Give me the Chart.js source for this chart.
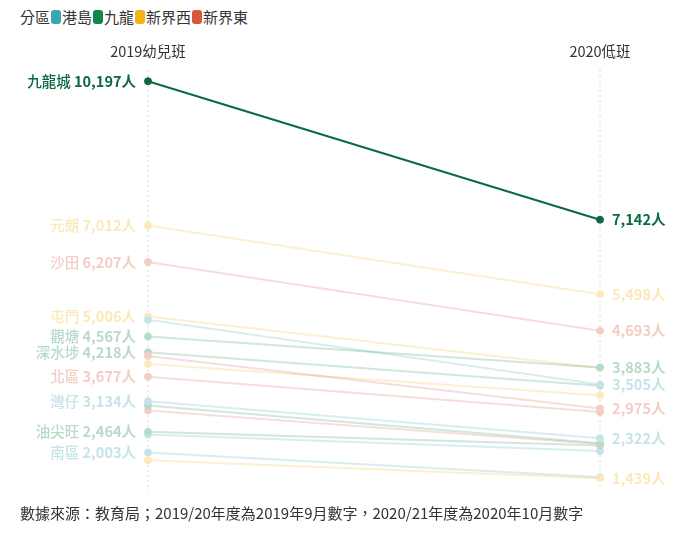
<!DOCTYPE html>
<html>
<head>
<meta charset="utf-8">
<script src="https://cdn.jsdelivr.net/npm/chart.js@4"></script>
<style>
    body { margin: 0; width: 690px; height: 533px; overflow: hidden; background: #fff;
           font-family: "Noto Sans CJK TC", "Noto Sans", sans-serif; }
    #chart { position: absolute; left: 0; top: 0; }
    #legend { position: absolute; left: 20px; top: 7px; font-size: 15px; color: #333;
              display: flex; align-items: center; line-height: 20px; }
    .sw { display: inline-block; width: 10px; height: 14px; border-radius: 3px; margin: 0 1px; }
    #source { position: absolute; left: 20px; top: 502px; font-size: 15px; color: #333; }
</style>
</head>
<body>
<div id="legend"></div>
<canvas id="chart" width="690" height="533"></canvas>
<div id="source">數據來源：教育局；2019/20年度為2019年9月數字，2020/21年度為2020年10月數字</div>
<script>
const columns = ['2019幼兒班', '2020低班'];
const regionNames = ['港島', '九龍', '新界西', '新界東'];
const regionColors = ['#3aa5b3', '#12854f', '#f0b416', '#d9573f'];

const districts = ['九龍城', '元朗', '沙田', '屯門', '東區', '觀塘', '深水埗', '西貢', '葵青',
                   '北區', '灣仔', '黃大仙', '大埔', '油尖旺', '中西區', '南區', '荃灣'];
const districtRegion = [1, 2, 3, 2, 0, 1, 1, 3, 2, 3, 0, 1, 3, 1, 0, 0, 2];
const values2019 = [10197, 7012, 6207, 5006, 4932, 4567, 4218, 4135, 3959,
                    3677, 3134, 3043, 2934, 2464, 2400, 2003, 1835];
const values2020 = [7142, 5498, 4693, 3870, 3505, 3883, 3480, 2975, 3265,
                    2897, 2322, 2212, 2190, 2162, 2036, 1460, 1439];

const labelledLeft = ['九龍城', '元朗', '沙田', '屯門', '觀塘', '深水埗', '北區', '灣仔', '油尖旺', '南區'];
const labelledRight = ['九龍城', '元朗', '沙田', '觀塘', '東區', '西貢', '灣仔', '荃灣'];
const highlight = '九龍城';
const highlightColor = '#0b6b40';

function fade(hex, a) {
    const n = parseInt(hex.slice(1), 16);
    return `rgba(${n >> 16}, ${(n >> 8) & 255}, ${n & 255}, ${a})`;
}
// same tint as fade() but solid, so overlapping points do not mix
function tint(hex, a) {
    const n = parseInt(hex.slice(1), 16);
    const mix = v => Math.round(255 - a * (255 - v));
    return `rgb(${mix(n >> 16)}, ${mix((n >> 8) & 255)}, ${mix(n & 255)})`;
}

// legend
const legend = document.getElementById('legend');
legend.innerHTML = '分區' + regionNames.map((r, i) =>
    `<span class="sw" style="background:${regionColors[i]}"></span>${r}`).join('');

const datasets = districts.map((d, i) => {
    const hi = d === highlight;
    const c = regionColors[districtRegion[i]];
    return {
        label: d,
        data: [values2019[i], values2020[i]],
        borderColor: hi ? highlightColor : fade(c, 0.2),
        backgroundColor: hi ? highlightColor : tint(c, 0.3),
        pointBackgroundColor: hi ? highlightColor : tint(c, 0.3),
        pointBorderColor: hi ? highlightColor : tint(c, 0.3),
        borderWidth: 2,
        pointRadius: 3.5,
        pointBorderWidth: 1,
        clip: false,
        // lower order is drawn on top: highlight first, then labelled ones
        order: hi ? 0 : (labelledRight.includes(d) ? 1 : 2)
    };
});

const fmt = v => v.toLocaleString('en-US') + '人';

const decorPlugin = {
    id: 'decor',
    beforeDatasetsDraw(chart) {
        const { ctx, chartArea } = chart;
        const xs = chart.scales.x;
        ctx.save();
        ctx.strokeStyle = '#d8d8d8';
        ctx.lineWidth = 1;
        ctx.setLineDash([2, 3]);
        columns.forEach((c, i) => {
            const x = xs.getPixelForValue(i);
            ctx.beginPath();
            ctx.moveTo(x, chartArea.top - 2);
            ctx.lineTo(x, chartArea.bottom + 2);
            ctx.stroke();
        });
        ctx.setLineDash([]);
        ctx.fillStyle = '#333';
        ctx.font = '14.5px "Noto Sans CJK TC", sans-serif';
        ctx.textAlign = 'center';
        ctx.textBaseline = 'middle';
        columns.forEach((c, i) => {
            ctx.fillText(c, xs.getPixelForValue(i), 51);
        });
        ctx.restore();
    },
    afterDatasetsDraw(chart) {
        const { ctx } = chart;
        ctx.save();
        ctx.textBaseline = 'middle';
        const nameFont = '500 14.5px "Noto Sans CJK TC", sans-serif';
        const numFont = 'bold 14.5px "Noto Sans CJK TC", sans-serif';
        districts.forEach((d, i) => {
            const meta = chart.getDatasetMeta(i);
            const hi = d === highlight;
            const color = hi ? highlightColor : tint(regionColors[districtRegion[i]], 0.3);
            ctx.fillStyle = color;
            if (labelledLeft.includes(d)) {
                const p = meta.data[0];
                const num = fmt(values2019[i]);
                ctx.font = numFont;
                const wNum = ctx.measureText(num).width;
                const xr = p.x - 12;
                ctx.textAlign = 'right';
                ctx.fillText(num, xr, p.y);
                ctx.font = nameFont;
                ctx.fillText(d + ' ', xr - wNum, p.y);
            }
            if (labelledRight.includes(d)) {
                const p = meta.data[1];
                ctx.font = numFont;
                ctx.textAlign = 'left';
                ctx.fillText(fmt(values2020[i]), p.x + 12, p.y);
            }
        });
        ctx.restore();
    }
};

new Chart(document.getElementById('chart'), {
    type: 'line',
    data: { labels: columns, datasets },
    options: {
        responsive: false,
        animation: false,
        layout: { padding: { left: 148, right: 90, top: 72, bottom: 44 } },
        scales: {
            x: { display: false, offset: false },
            y: { display: false, min: 1200, max: 10400 }
        },
        plugins: { legend: { display: false }, tooltip: { enabled: false } }
    },
    plugins: [decorPlugin]
});
</script>
</body>
</html>
